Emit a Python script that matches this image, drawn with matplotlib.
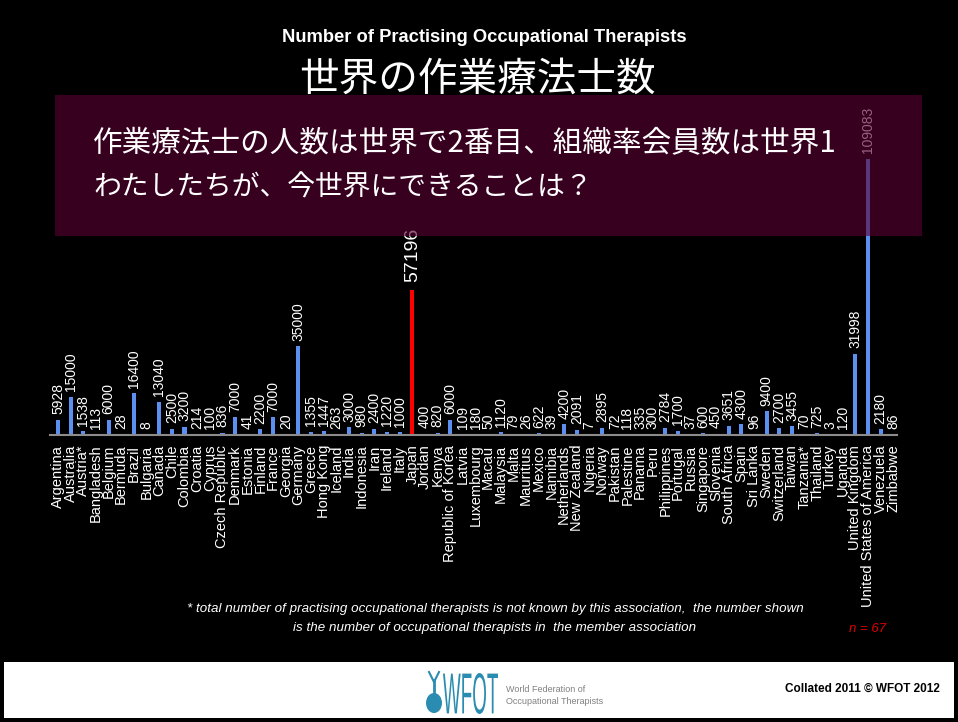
import matplotlib.pyplot as plt
import matplotlib.patches as mpatches
from matplotlib.textpath import TextPath
from matplotlib.font_manager import FontProperties
from matplotlib.transforms import Affine2D
import numpy as np

# Data
countries = [
    "Argentina", "Australia", "Austria*", "Bangladesh", "Belgium", "Bermuda",
    "Brazil", "Bulgaria", "Canada", "Chile", "Colombia", "Croatia", "Cyprus",
    "Czech Republic", "Denmark", "Estonia", "Finland", "France", "Georgia",
    "Germany", "Greece", "Hong Kong", "Iceland", "India", "Indonesia", "Iran",
    "Ireland", "Italy", "Japan", "Jordan", "Kenya", "Republic of Korea",
    "Latvia", "Luxembourg", "Macau", "Malaysia", "Malta", "Mauritius",
    "Mexico", "Namibia", "Netherlands", "New Zealand", "Nigeria", "Norway",
    "Pakistan", "Palestine", "Panama", "Peru", "Philippines", "Portugal",
    "Russia", "Singapore", "Slovenia", "South Africa", "Spain", "Sri Lanka",
    "Sweden", "Switzerland", "Taiwan", "Tanzania*", "Thailand", "Turkey",
    "Uganda", "United Kingdom", "United States of America", "Venezuela",
    "Zimbabwe",
]
therapists = [
    5928, 15000, 1538, 113, 6000, 28,
    16400, 8, 13040, 2500, 3200, 214, 100,
    836, 7000, 41, 2200, 7000, 20,
    35000, 1355, 1447, 263, 3000, 980, 2400,
    1220, 1000, 57196, 400, 820, 6000,
    109, 180, 50, 1120, 79, 26,
    622, 39, 4200, 2091, 7, 2895,
    72, 118, 335, 300, 2784, 1700,
    37, 600, 450, 3651, 4300, 96,
    9400, 2700, 3455, 70, 725, 3,
    120, 31998, 109083, 2180,
    86,
]
highlight = "Japan"

W, H = 958, 722
CJK = ['Noto Sans CJK JP', 'DejaVu Sans']


def fx(px):
    return px / W


def fy(py):
    return 1 - py / H


def fitted_text(fig, s, x0, y0, x1, y1, color):
    # squeeze a text into a pixel box (used for the tall narrow logo letters)
    tp = TextPath((0, 0), s, size=10, prop=FontProperties(family='Liberation Sans'))
    ext = tp.get_extents()
    sx = (x1 - x0) / ext.width
    sy = (y1 - y0) / ext.height
    tr = Affine2D().translate(-ext.x0, -ext.y0).scale(sx, sy).translate(x0, H - y1)
    patch = mpatches.PathPatch(tp, transform=tr, facecolor=color,
                               edgecolor='none', zorder=4)
    fig.patches.append(patch)


def main():
    plt.rcParams['font.family'] = ['Liberation Sans', 'DejaVu Sans']
    fig = plt.figure(figsize=(W / 100, H / 100), dpi=100, facecolor='black')

    ax = fig.add_axes([fx(50), fy(435), fx(897) - fx(50), fy(131) - fy(435)])
    ax.set_facecolor('black')

    x = np.arange(len(countries))
    colors = ['#ff0000' if c == highlight else '#5b8ff0' for c in countries]
    ax.bar(x, therapists, width=0.32, color=colors, zorder=2)

    for xi, v, c in zip(x, therapists, countries):
        big = c == highlight
        ax.annotate(str(v), (xi, v), xytext=(0, 6 if big else 4),
                    textcoords='offset points', rotation=90,
                    ha='center', va='bottom', color='white',
                    fontsize=14 if big else 10)

    ax.set_xlim(-0.63, 66.3)
    ax.set_ylim(0, 120000)
    ax.set_xticks(x)
    ax.set_xticklabels(countries, rotation=90, color='white', fontsize=10.5)
    ax.tick_params(axis='x', length=0, pad=7)
    ax.set_yticks([])
    for s in ['top', 'right', 'left']:
        ax.spines[s].set_visible(False)
    ax.spines['bottom'].set_color('#8c8c8c')
    ax.spines['bottom'].set_linewidth(1.5)

    # titles
    fig.text(fx(484), fy(37), "Number of Practising Occupational Therapists",
             ha='center', va='center', color='white', fontsize=13.2,
             fontweight='bold')
    fig.text(fx(477), fy(80), "世界の作業療法士数", ha='center', va='center',
             color='white', fontsize=28.5, family=CJK)

    # translucent message box
    box = mpatches.Rectangle((fx(55), fy(236)), fx(922) - fx(55),
                             fy(95) - fy(236), transform=fig.transFigure,
                             facecolor='#5a0033', alpha=0.62,
                             edgecolor='none', zorder=3)
    fig.patches.append(box)
    fig.text(fx(93), fy(144), "作業療法士の人数は世界で2番目、組織率会員数は世界1",
             ha='left', va='center', color='white', fontsize=21.3, zorder=4,
             family=CJK)
    fig.text(fx(93), fy(188), "わたしたちが、今世界にできることは？",
             ha='left', va='center', color='white', fontsize=20, zorder=4,
             family=CJK)

    # footnote
    fig.text(fx(495), fy(609),
             "* total number of practising occupational therapists is not known "
             "by this association,  the number shown",
             ha='center', va='center', color='white', fontsize=9.6,
             style='italic')
    fig.text(fx(495), fy(628),
             "is the number of occupational therapists in  the member association",
             ha='center', va='center', color='white', fontsize=9.6,
             style='italic')
    fig.text(fx(868), fy(629), "n = 67", ha='center', va='center',
             color='#e00000', fontsize=9.5, style='italic')

    # white footer strip with logo
    strip = mpatches.Rectangle((fx(4), fy(718)), fx(954) - fx(4),
                               fy(662) - fy(718), transform=fig.transFigure,
                               facecolor='white', edgecolor='none', zorder=3)
    fig.patches.append(strip)
    logo = '#2a8cb0'
    fig.patches.append(mpatches.Ellipse((fx(434), fy(703)), fx(16), 20 / H,
                                        transform=fig.transFigure,
                                        facecolor=logo, zorder=4))
    fig.lines.append(plt.Line2D([fx(434), fx(434)], [fy(693), fy(680)],
                                transform=fig.transFigure, color=logo,
                                lw=2, zorder=4))
    fig.lines.append(plt.Line2D([fx(429), fx(434), fx(439)],
                                [fy(672), fy(682), fy(672)],
                                transform=fig.transFigure, color=logo,
                                lw=1.5, zorder=4))
    fitted_text(fig, "WFOT", 443, 673, 498, 714, logo)
    fig.text(fx(506), fy(689), "World Federation of", ha='left',
             va='center', color='#808080', fontsize=6.5, zorder=4)
    fig.text(fx(506), fy(702), "Occupational Therapists", ha='left',
             va='center', color='#808080', fontsize=6.5, zorder=4)
    fig.text(fx(862), fy(689), "Collated 2011 © WFOT 2012", ha='center',
             va='center', color='black', fontsize=8.5, fontweight='bold',
             zorder=4)

    fig.savefig('out.png', dpi=100, facecolor='black')


if __name__ == "__main__":
    main()
